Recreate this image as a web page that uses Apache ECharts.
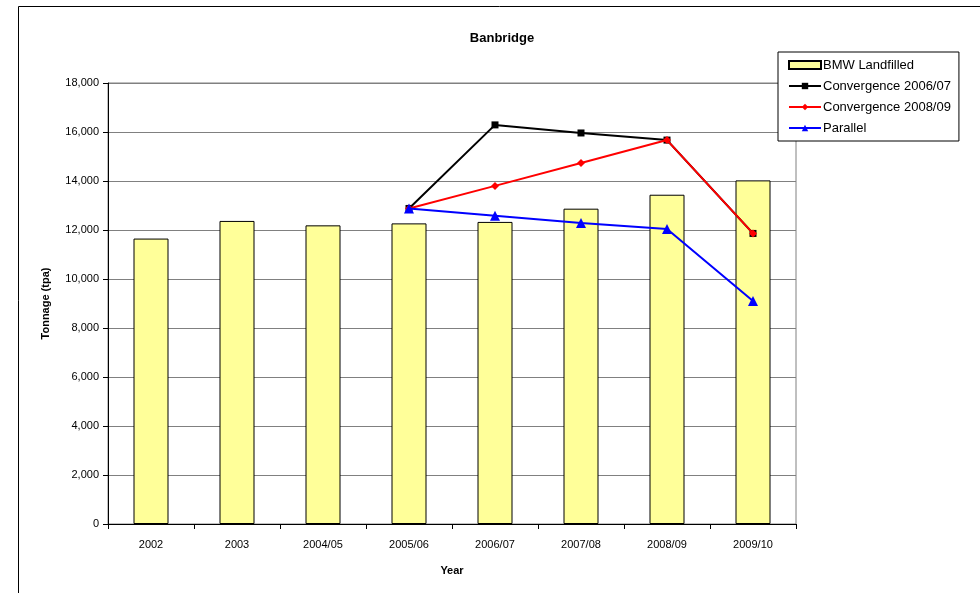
<!DOCTYPE html>
<html>
<head>
<meta charset="utf-8">
<script src="https://cdn.jsdelivr.net/npm/echarts@6/dist/echarts.min.js"></script>
<style>
html,body{margin:0;padding:0;background:#fff;}
#chart{width:980px;height:593px;}
</style>
</head>
<body>
<div id="chart"></div>
<script>
var categories = ['2002','2003','2004/05','2005/06','2006/07','2007/08','2008/09','2009/10'];
var bmwLandfilled = [11650, 12370, 12190, 12270, 12330, 12870, 13440, 14025];
var convergence0607 = [null, null, null, 12880, 16290, 15960, 15670, 11860];
var convergence0809 = [null, null, null, 12880, 13800, 14735, 15670, 11860];
var parallel = [null, null, null, 12880, 12585, 12285, 12040, 9100];
var yTicks = {min: 0, max: 18000, interval: 2000};

var font = 'Liberation Sans, Arial, sans-serif';
var chart = echarts.init(document.getElementById('chart'), null, {renderer: 'canvas'});
chart.setOption({
  animation: false,
  backgroundColor: '#fff',
  title: {
    text: 'Banbridge', left: 497, top: 27, textAlign: 'center',
    textStyle: {fontFamily: font, fontSize: 13, fontWeight: 'bold', color: '#000'}
  },
  graphic: [{
    type: 'rect', left: 16, top: 4, z: -10,
    shape: {width: 962, height: 600},
    style: {fill: 'none', stroke: '#000', lineWidth: 1}
  }],
  legend: {
    orient: 'vertical', left: 778, top: 52,
    padding: [6, 8, 6, 10], itemGap: 7,
    itemWidth: 32, itemHeight: 8,
    borderColor: '#000', borderWidth: 1, backgroundColor: '#fff',
    textStyle: {fontFamily: font, fontSize: 13, color: '#000', padding: [0,0,0,-3], lineHeight: 14},
    data: [
      {name: 'BMW Landfilled', icon: 'rect'},
      {name: 'Convergence 2006/07'},
      {name: 'Convergence 2008/09'},
      {name: 'Parallel'}
    ]
  },
  grid: {
    left: 108, right: 184, top: 83, bottom: 69,
    show: true, borderColor: '#808080', borderWidth: 1, backgroundColor: 'transparent'
  },
  xAxis: {
    type: 'category', data: categories,
    name: 'Year', nameLocation: 'middle', nameGap: 41,
    nameTextStyle: {fontFamily: font, fontSize: 11, fontWeight: 'bold', color: '#000'},
    axisLine: {lineStyle: {color: '#000', width: 1}},
    axisTick: {show: true, length: 5, lineStyle: {color: '#000'}},
    axisLabel: {fontFamily: font, fontSize: 11, color: '#000', margin: 15}
  },
  yAxis: {
    type: 'value', min: yTicks.min, max: yTicks.max, interval: yTicks.interval,
    name: 'Tonnage (tpa)', nameLocation: 'middle', nameGap: 57, nameRotate: 90,
    nameTextStyle: {fontFamily: font, fontSize: 11, fontWeight: 'bold', color: '#000'},
    axisLine: {show: true, lineStyle: {color: '#000', width: 1}},
    axisTick: {show: true, length: 5, lineStyle: {color: '#000'}},
    splitLine: {show: true, lineStyle: {color: '#808080', width: 1}},
    axisLabel: {
      fontFamily: font, fontSize: 11, color: '#000', margin: 9,
      formatter: function (v) { return v.toLocaleString('en-US'); }
    }
  },
  series: [
    {
      name: 'BMW Landfilled', type: 'bar', data: bmwLandfilled,
      barWidth: 35,
      itemStyle: {color: '#FFFF99', borderColor: '#000', borderWidth: 1},
      z: 1
    },
    {
      name: 'Convergence 2006/07', type: 'line', data: convergence0607,
      symbol: 'rect', symbolSize: 7,
      lineStyle: {color: '#000', width: 2},
      itemStyle: {color: '#000'}, z: 3
    },
    {
      name: 'Convergence 2008/09', type: 'line', data: convergence0809,
      symbol: 'diamond', symbolSize: 8,
      lineStyle: {color: '#FF0000', width: 2},
      itemStyle: {color: '#FF0000'}, z: 4
    },
    {
      name: 'Parallel', type: 'line', data: parallel,
      symbol: 'triangle', symbolSize: 10,
      lineStyle: {color: '#0000FF', width: 2},
      itemStyle: {color: '#0000FF'}, z: 5
    }
  ]
});
</script>
</body>
</html>
